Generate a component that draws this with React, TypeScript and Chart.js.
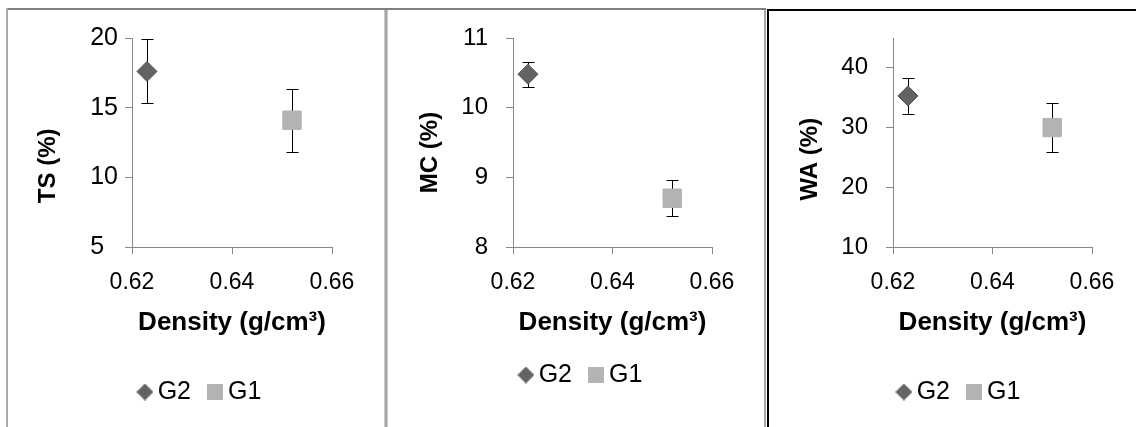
import React, { useEffect, useRef } from 'react';
import { Chart, registerables } from 'chart.js';

Chart.register(...registerables);

// ---------- data ----------
const seriesNames = ['G2', 'G1'];
const density = [0.623, 0.652]; // G2, G1
const tsMean = [17.6, 14.1];
const tsErr = [2.3, 2.25];
const mcMean = [10.48, 8.7];
const mcErr = [0.18, 0.26];
const waMean = [35.3, 30.0];
const waErr = [2.95, 4.05];
const xTickValues = [0.62, 0.64, 0.66];
const tsTicks = [5, 10, 15, 20];
const mcTicks = [8, 9, 10, 11];
const waTicks = [10, 20, 30, 40];
const tsAxisMax = 20;
const mcAxisMax = 11;
const waAxisMax = 45;
const xTitle = 'Density (g/cm³)';
const yTitles = ['TS (%)', 'MC (%)', 'WA (%)'];

// ---------- styles ----------
const FAMILY = "'Liberation Sans', Arial, sans-serif";
const G2_FILL = '#636363';
const G2_EDGE = '#555555';
const G1_FILL = '#b3b3b3';
const AXIS = '#888888';

function makeMarker(kind: string, size: number, fill: string) {
  const c = document.createElement('canvas');
  c.width = size;
  c.height = size;
  const g = c.getContext('2d')!;
  g.fillStyle = fill;
  if (kind === 'diamond') {
    g.beginPath();
    g.moveTo(size / 2, 0);
    g.lineTo(size, size / 2);
    g.lineTo(size / 2, size);
    g.lineTo(0, size / 2);
    g.closePath();
    g.fill();
  } else {
    g.fillRect(0, 0, size, size);
  }
  return c;
}

const errorBarPlugin = {
  id: 'errorBars',
  beforeDatasetsDraw(chart: any) {
    const { ctx } = chart;
    const xs = chart.scales.x;
    const ys = chart.scales.y;
    ctx.save();
    ctx.strokeStyle = '#000';
    ctx.lineWidth = 1;
    chart.data.datasets.forEach((ds: any) => {
      ds.data.forEach((pt: any, j: number) => {
        const e = ds.errors[j];
        const cx = Math.round(xs.getPixelForValue(pt.x)) + 0.5;
        const top = Math.round(ys.getPixelForValue(pt.y + e)) + 0.5;
        const bot = Math.round(ys.getPixelForValue(pt.y - e)) + 0.5;
        ctx.beginPath();
        ctx.moveTo(cx, top);
        ctx.lineTo(cx, bot);
        ctx.moveTo(cx - 6, top);
        ctx.lineTo(cx + 6, top);
        ctx.moveTo(cx - 6, bot);
        ctx.lineTo(cx + 6, bot);
        ctx.stroke();
      });
    });
    ctx.restore();
  },
};

type PanelCfg = {
  mean: number[];
  err: number[];
  ticks: number[];
  max: number;
  title: string;
  label: (v: number) => string;
  left: number;
  top: number;
  w: number;
  h: number;
  padL: number;
  padR: number;
  padT: number;
  padB: number;
  yW: number;
  xH: number;
  xTitlePadB: number;
  yTitlePadT: number;
  yTickPad: number;
  yTickSize: number;
};

function buildConfig(p: PanelCfg): any {
  const diamond = makeMarker('diamond', 17, G2_FILL);
  const square = makeMarker('square', 16, G1_FILL);
  return {
    type: 'scatter',
    data: {
      datasets: [
        {
          label: seriesNames[0],
          data: [{ x: density[0], y: p.mean[0] }],
          errors: [p.err[0]],
          pointStyle: 'rectRot',
          pointRadius: 10,
          pointHoverRadius: 10,
          backgroundColor: G2_FILL,
          borderColor: G2_EDGE,
          borderWidth: 1,
        },
        {
          label: seriesNames[1],
          data: [{ x: density[1], y: p.mean[1] }],
          errors: [p.err[1]],
          pointStyle: 'rect',
          pointRadius: 13,
          pointHoverRadius: 13,
          backgroundColor: G1_FILL,
          borderColor: G1_FILL,
          borderWidth: 1,
        },
      ],
    },
    options: {
      animation: false,
      responsive: false,
      events: [],
      layout: { padding: { left: p.padL, right: p.padR, top: p.padT, bottom: p.padB } },
      scales: {
        x: {
          type: 'linear',
          min: xTickValues[0],
          max: xTickValues[xTickValues.length - 1],
          afterBuildTicks: (s: any) => {
            s.ticks = xTickValues.map((v) => ({ value: v }));
          },
          afterFit: (s: any) => {
            s.height = p.xH;
          },
          grid: { drawOnChartArea: false, drawTicks: true, tickLength: 7, color: AXIS },
          border: { display: true, color: AXIS, width: 1 },
          ticks: {
            font: { family: FAMILY, size: 23 },
            color: '#000',
            padding: 14.5,
            autoSkip: false,
            maxRotation: 0,
            callback: (v: any) => Number(v).toFixed(2),
          },
          title: {
            display: true,
            text: xTitle,
            color: '#000',
            font: { family: FAMILY, size: 26, weight: 'bold' },
            padding: { top: 0, bottom: p.xTitlePadB },
          },
        },
        y: {
          type: 'linear',
          min: p.ticks[0],
          max: p.max,
          afterBuildTicks: (s: any) => {
            s.ticks = p.ticks.map((v) => ({ value: v }));
          },
          afterFit: (s: any) => {
            s.width = p.yW;
            s.paddingTop = 0;
            s.paddingBottom = 0;
          },
          grid: { drawOnChartArea: false, drawTicks: true, tickLength: 7, color: AXIS },
          border: { display: true, color: AXIS, width: 1 },
          ticks: {
            font: { family: FAMILY, size: p.yTickSize },
            color: '#000',
            padding: p.yTickPad,
            callback: (v: any) => p.label(Number(v)),
          },
          title: {
            display: true,
            text: p.title,
            color: '#000',
            font: { family: FAMILY, size: 24, weight: 'bold' },
            padding: { top: p.yTitlePadT, bottom: 0 },
          },
        },
      },
      plugins: {
        legend: {
          position: 'bottom',
          labels: {
            usePointStyle: true,
            boxWidth: 0.5,
            boxHeight: 25,
            padding: 24,
            color: '#000',
            font: { family: FAMILY, size: 25 },
            generateLabels: () => [
              { text: seriesNames[0], pointStyle: diamond, fillStyle: G2_FILL, strokeStyle: G2_FILL, lineWidth: 0, hidden: false, datasetIndex: 0, fontColor: '#000' },
              { text: seriesNames[1], pointStyle: square, fillStyle: G1_FILL, strokeStyle: G1_FILL, lineWidth: 0, hidden: false, datasetIndex: 1, fontColor: '#000' },
            ],
          },
        },
        tooltip: { enabled: false },
      },
    },
    plugins: [errorBarPlugin],
  };
}

const panels: PanelCfg[] = [
  {
    mean: tsMean, err: tsErr, ticks: tsTicks, max: tsAxisMax,
    title: yTitles[0] + '       ',
    label: (v) => (v === 5 ? '5  ' : String(v)),
    left: 8, top: 11, w: 375, h: 416,
    padL: 66, padR: 51, padT: 27, padB: 12.5,
    yW: 58, xH: 108.5, xTitlePadB: 17.4, yTitlePadT: -40.4, yTickPad: 7, yTickSize: 25,
  },
  {
    mean: mcMean, err: mcErr, ticks: mcTicks, max: mcAxisMax,
    title: yTitles[1] + '   ',
    label: (v) => String(v),
    left: 389, top: 11, w: 375, h: 416,
    padL: 67, padR: 52, padT: 27, padB: 29.5,
    yW: 57, xH: 91.5, xTitlePadB: 0.4, yTitlePadT: -40.4, yTickPad: 18, yTickSize: 24,
  },
  {
    mean: waMean, err: waErr, ticks: waTicks, max: waAxisMax,
    title: yTitles[2] + '     ',
    label: (v) => String(v),
    left: 770, top: 12, w: 366, h: 415,
    padL: 62, padR: 44, padT: 26, padB: 12.5,
    yW: 61, xH: 108.5, xTitlePadB: 17.4, yTitlePadT: -36.4, yTickPad: 18, yTickSize: 24,
  },
];

function Panel({ cfg }: { cfg: PanelCfg }) {
  const ref = useRef<HTMLCanvasElement | null>(null);
  useEffect(() => {
    if (!ref.current) return;
    const chart = new Chart(ref.current, buildConfig(cfg));
    return () => chart.destroy();
  }, [cfg]);
  return (
    <canvas
      ref={ref}
      width={cfg.w}
      height={cfg.h}
      style={{ position: 'absolute', left: cfg.left, top: cfg.top, width: cfg.w, height: cfg.h }}
    />
  );
}

function Line({ l, t, w, h, c }: { l: number; t: number; w: number; h: number; c: string }) {
  return <div style={{ position: 'absolute', left: l, top: t, width: w, height: h, background: c }} />;
}

export default function App() {
  return (
    <div
      style={{
        position: 'fixed',
        left: 0,
        top: 0,
        width: 1136,
        height: 427,
        overflow: 'hidden',
        background: '#fff',
      }}
    >
      {/* panel frames */}
      <Line l={6} t={8} w={760} h={2} c="#808080" />
      <Line l={6} t={8} w={2} h={430} c="#a8a8a8" />
      <Line l={384} t={10} w={4} h={430} c="#c8c8c8" />
      <Line l={385} t={10} w={2} h={430} c="#a8a8a8" />
      <Line l={764} t={10} w={2} h={430} c="#a8a8a8" />
      <Line l={767} t={9} w={369} h={2} c="#000" />
      <Line l={767} t={9} w={2} h={430} c="#000" />
      {panels.map((p, i) => (
        <Panel key={i} cfg={p} />
      ))}
    </div>
  );
}
